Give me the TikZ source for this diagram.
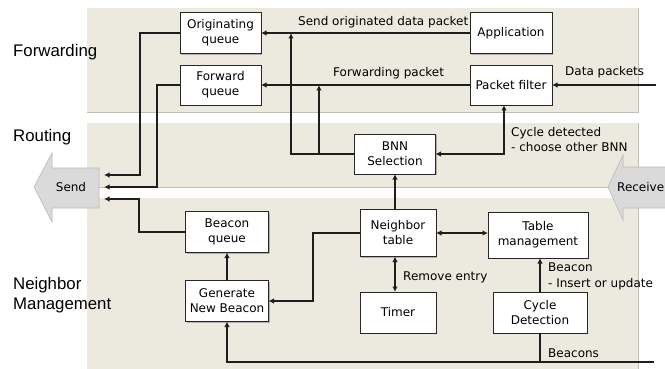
\documentclass[tikz,border=0pt]{standalone}
\usepackage{fontspec}
\setmainfont{DejaVu Sans}
\newfontfamily\bigfont{Liberation Sans}
\usetikzlibrary{arrows.meta,shadows}
\definecolor{band}{RGB}{236,233,222}
\definecolor{bandedge}{RGB}{190,190,184}
\definecolor{ln}{RGB}{30,30,30}
\definecolor{bigarr}{RGB}{218,218,218}
\begin{document}
\begin{tikzpicture}[x=1pt,y=-1pt,
  box/.style={draw=black!85, line width=0.7pt, fill=white, align=center, inner sep=0pt, outer sep=0pt,
    font=\fontsize{12}{15}\selectfont,
    drop shadow={shadow xshift=1.2pt, shadow yshift=-1.2pt, fill=black!45, opacity=0.6}},
  lbl/.style={inner sep=0pt, font=\fontsize{12}{15}\selectfont},
  biglbl/.style={inner sep=0pt, font=\bigfont\fontsize{16.8}{20}\selectfont},
  conn/.style={draw=ln, line width=2pt},
  arr/.style={conn, -{Latex[length=5.5pt,width=5.5pt]}},
  darr/.style={conn, {Latex[length=5.5pt,width=5.5pt]}-{Latex[length=5.5pt,width=5.5pt]}},
  bigarrow/.style={fill=bigarr, draw=gray!55, line width=0.6pt}
]
\useasboundingbox (0,0) rectangle (665,369);
% bands
\fill[band] (87,8) rectangle (638,112);
\draw[bandedge, line width=0.8pt] (638,8) -- (638,112) -- (87,112);
\fill[band] (87,123) rectangle (638,187);
\draw[bandedge, line width=0.8pt] (638,123) -- (638,187) -- (87,187);
\fill[band] (87,198) rectangle (638,369);
\draw[bandedge, line width=0.8pt] (638,198) -- (638,369);
% section labels
\node[biglbl, anchor=base west] (tfwd) at (13,57) {Forwarding};
\node[biglbl, anchor=base west] (trout) at (13,142) {Routing};
\node[biglbl, anchor=base west] (tnb1) at (13,289) {Neighbor};
\node[biglbl, anchor=base west] (tnb2) at (13,309) {Management};
% big arrows
\filldraw[bigarrow] (34,187) -- (52,153) -- (52,168) -- (99,168) -- (99,208) -- (52,208) -- (52,222) -- cycle;
\filldraw[bigarrow] (608,187) -- (623,155) -- (623,167) -- (667,167) -- (667,208) -- (623,208) -- (623,220) -- cycle;
\node[lbl] (send) at (71,187) {Send};
\node[lbl, anchor=west] (recv) at (617,187) {Receive};
% boxes
\node[box, minimum width=81pt, minimum height=41pt] (orig) at (220.5,33) {Originating\\queue};
\node[box, minimum width=81pt, minimum height=40pt] (fwdq) at (220.5,85) {Forward\\queue};
\node[box, minimum width=82pt, minimum height=41pt] (app) at (511,33) {Application};
\node[box, minimum width=82pt, minimum height=40pt] (pf) at (511,85) {Packet filter};
\node[box, minimum width=81pt, minimum height=40pt] (bnn) at (395,154) {BNN\\Selection};
\node[box, minimum width=76pt, minimum height=47pt] (nt) at (398,233) {Neighbor\\table};
\node[box, minimum width=100pt, minimum height=46pt] (tm) at (538,235) {Table\\management};
\node[box, minimum width=76pt, minimum height=41pt] (timer) at (398,312.5) {Timer};
\node[box, minimum width=94pt, minimum height=41pt] (cd) at (540,312.5) {Cycle\\Detection};
\node[box, minimum width=83pt, minimum height=41pt] (bq) at (227,232) {Beacon\\queue};
\node[box, minimum width=83pt, minimum height=41pt] (gnb) at (227,301) {Generate\\New Beacon};
% free ends
\coordinate (sendA) at (104,175);
\coordinate (sendB) at (104,187);
\coordinate (sendC) at (104,199);
\coordinate (j1) at (291,33);
\coordinate (j2) at (319,85);
\coordinate (dp) at (656,85);
\coordinate (bcn) at (654,362);
% connectors
\draw[arr] (app.west) -- (orig.east);
\draw[arr] (pf.west) -- (fwdq.east);
\draw[arr] (dp) -- (pf.east);
\draw[arr] (orig.west) -- ++(-40.5,0) |- (sendA);
\draw[arr] (fwdq.west) -- ++(-23.5,0) |- (sendB);
\draw[arr] (bq.west) -- ++(-46.5,0) |- (sendC);
\draw[arr] (bnn.west) -| (j1);
\draw[arr] (bnn.west -| j2) -- (j2);
\draw[darr] ([xshift=-7pt]pf.south) |- (bnn.east);
\draw[arr] (bnn.south |- nt.north) -- (bnn.south);
\draw[arr] (nt.west) -- ++(-47,0) |- (gnb.east);
\draw[arr] (gnb.north) -- (bq.south);
\draw[darr] (nt.east) -- (tm.west |- nt.east);
\draw[darr] (bnn.south |- nt.south) -- (bnn.south |- timer.north);
\draw[arr] (cd.north) -- (cd.north |- tm.south);
\draw[arr] (bcn) -| (gnb.south);
\draw[conn] (cd.south) -- (cd.south |- bcn);
% connector labels
\node[lbl, anchor=base west] (l1) at (298,26) {Send originated data packet};
\node[lbl, anchor=base west] (l2) at (333,77) {Forwarding packet};
\node[lbl, anchor=base west] (l3) at (565,76) {Data packets};
\node[lbl, anchor=base west] (l4) at (511,136) {Cycle detected};
\node[lbl, anchor=base west] (l5) at (511,152) {- choose other BNN};
\node[lbl, anchor=base west] (l6) at (403,280) {Remove entry};
\node[lbl, anchor=base west] (l7) at (548,271) {Beacon};
\node[lbl, anchor=base west] (l8) at (548,287) {- Insert or update};
\node[lbl, anchor=base west] (l9) at (548,357) {Beacons};
\end{tikzpicture}
\end{document}
